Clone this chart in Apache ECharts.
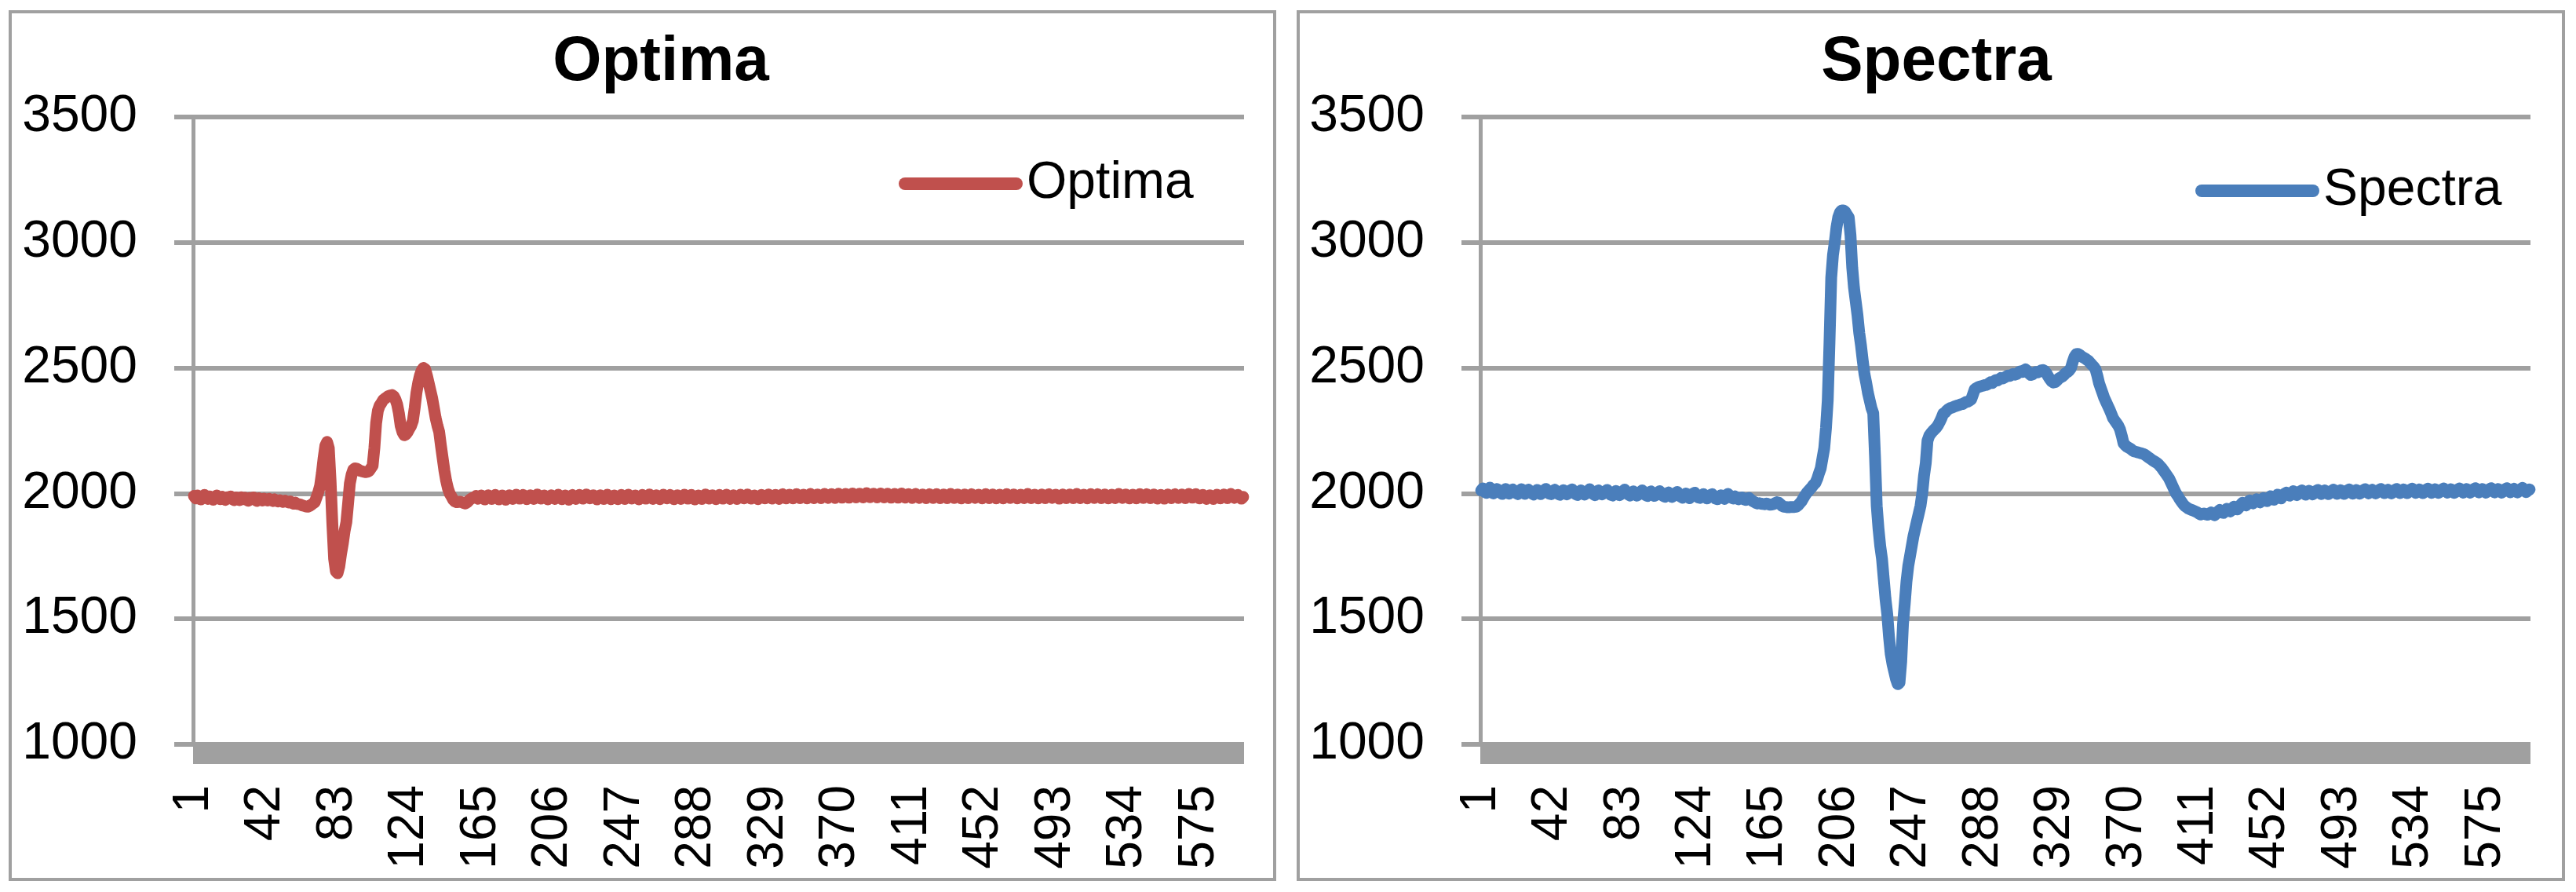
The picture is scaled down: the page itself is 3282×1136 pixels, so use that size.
<!DOCTYPE html>
<html>
<head>
<meta charset="utf-8">
<title>Optima / Spectra</title>
<script src="https://cdn.jsdelivr.net/npm/echarts@6/dist/echarts.min.js"></script>
<style>
  html, body { margin: 0; padding: 0; background: #fff; }
  #main { width: 3282px; height: 1136px; }
</style>
</head>
<body>
<div id="main"></div>
<script>
// sample index 1..600
var categories = [];
for (var i = 1; i <= 600; i++) categories.push(String(i));

var yTicks = [1000, 1500, 2000, 2500, 3000, 3500];

var optima = [
  1990,1980,1992,1985,1976,1987,1994,1983,1978,1988,1982,1975,1986,1992,1981,1977,1987,1980,1974,1985,
  1981,1988,1977,1973,1984,1979,1973,1985,1977,1983,1975,1971,1982,1977,1984,1974,1970,1981,1976,1972,
  1979,1975,1972,1978,1974,1970,1976,1971,1968,1973,1969,1966,1971,1967,1964,1968,1962,1959,1963,1958,
  1957,1955,1952,1950,1948,1947,1950,1955,1960,1965,1985,2005,2030,2080,2140,2190,2205,2180,2050,1880,
  1740,1690,1682,1710,1760,1800,1850,1885,1960,2040,2075,2095,2100,2098,2094,2090,2088,2086,2085,2086,
  2090,2100,2110,2180,2280,2330,2350,2360,2372,2378,2383,2388,2390,2392,2388,2375,2355,2320,2270,2245,
  2232,2235,2245,2258,2270,2290,2340,2400,2440,2470,2490,2500,2495,2470,2440,2410,2380,2340,2300,2270,
  2245,2190,2140,2090,2050,2020,2000,1988,1975,1968,1965,1966,1967,1965,1962,1960,1965,1972,1978,1982,
  1984,1990,1979,1986,1992,1981,1976,1987,1993,1985,1978,1988,1994,1983,1976,1985,1992,1982,1975,1987,
  1993,1983,1978,1988,1995,1986,1979,1989,1994,1984,1977,1987,1993,1983,1978,1989,1996,1987,1979,1986,
  1992,1982,1976,1985,1993,1986,1978,1988,1995,1985,1977,1984,1992,1982,1975,1985,1994,1986,1978,1988,
  1994,1984,1979,1989,1996,1987,1980,1986,1993,1983,1976,1985,1993,1985,1978,1988,1995,1986,1977,1984,
  1992,1983,1977,1986,1994,1985,1978,1989,1995,1986,1979,1985,1992,1982,1976,1986,1994,1986,1979,1989,
  1996,1987,1978,1985,1993,1983,1977,1988,1995,1986,1980,1989,1994,1985,1977,1986,1993,1983,1978,1988,
  1995,1986,1979,1987,1994,1985,1976,1984,1992,1985,1978,1989,1996,1987,1979,1986,1993,1983,1977,1986,
  1994,1986,1979,1989,1995,1986,1978,1985,1993,1985,1978,1988,1995,1986,1980,1989,1996,1987,1979,1986,
  1992,1983,1977,1986,1994,1987,1980,1990,1996,1987,1979,1987,1994,1986,1978,1989,1997,1988,1980,1988,
  1995,1987,1980,1990,1997,1988,1981,1988,1995,1987,1980,1990,1998,1989,1981,1989,1996,1988,1981,1991,
  1998,1990,1982,1990,1997,1989,1982,1992,1999,1990,1983,1991,1998,1990,1983,1993,2000,1991,1984,1992,
  1999,1990,1984,1994,2001,1992,1985,1992,1999,1991,1984,1994,2000,1991,1984,1992,1999,1990,1983,1991,
  1998,1990,1983,1993,2000,1991,1983,1990,1997,1989,1982,1992,1998,1990,1982,1989,1996,1988,1981,1991,
  1997,1989,1982,1990,1997,1988,1981,1989,1996,1988,1981,1991,1998,1989,1982,1989,1996,1988,1980,1989,
  1996,1988,1981,1991,1997,1989,1982,1988,1995,1987,1980,1990,1997,1988,1981,1989,1996,1987,1980,1988,
  1995,1987,1980,1990,1997,1989,1982,1989,1996,1987,1980,1988,1995,1987,1981,1991,1998,1989,1981,1988,
  1995,1987,1980,1990,1996,1988,1981,1989,1997,1989,1982,1988,1995,1986,1979,1988,1996,1988,1981,1989,
  1996,1988,1981,1991,1998,1989,1981,1988,1995,1987,1980,1990,1997,1989,1982,1991,1997,1988,1981,1989,
  1996,1987,1980,1988,1995,1987,1981,1991,1998,1990,1982,1989,1996,1988,1980,1988,1995,1987,1980,1990,
  1997,1989,1982,1991,1997,1988,1981,1989,1996,1987,1979,1987,1994,1986,1979,1988,1996,1988,1981,1989,
  1997,1989,1982,1989,1996,1988,1981,1991,1998,1990,1983,1990,1997,1988,1980,1987,1994,1986,1978,1986,
  1993,1985,1978,1988,1995,1987,1980,1988,1996,1988,1981,1990,1998,1990,1982,1988,1994,1986,1979,1986
];

var spectra = [
  2012,2020,2006,2002,2016,2023,2009,2000,2009,2018,2011,2003,1998,2010,2018,2007,1999,2006,2016,2009,
  2001,1997,2009,2017,2005,1998,2005,2015,2008,2000,1996,2004,2014,2006,1997,2003,2013,2018,2007,1999,
  1997,2006,2015,2007,1998,1995,2005,2013,2003,1996,2002,2012,2016,2006,1997,1994,2004,2012,2002,1995,
  2001,2010,2017,2007,1998,1993,2002,2012,2005,1996,2001,2009,2014,2003,1995,1992,2002,2010,2000,1993,
  1998,2008,2015,2005,1996,1992,2000,2008,2000,1991,1996,2005,2012,2002,1993,1990,1998,2008,2000,1990,
  1994,2003,2009,1999,1990,1987,1995,2004,1995,1986,1991,2000,2006,1996,1987,1983,1991,2000,1990,1981,
  1992,1999,2003,1993,1984,1982,1990,1997,1988,1980,1985,1994,1997,1988,1979,1977,1985,1993,1986,1978,
  1992,1998,1990,1983,1980,1988,1984,1977,1981,1984,1977,1974,1980,1982,1976,1970,1966,1962,1960,1961,
  1959,1958,1957,1960,1957,1955,1956,1957,1962,1965,1963,1957,1950,1947,1946,1945,1945,1946,1946,1946,
  1947,1952,1960,1968,1980,1992,2002,2010,2018,2026,2035,2042,2058,2080,2100,2140,2180,2260,2370,2600,
  2860,2950,3000,3060,3100,3120,3128,3128,3122,3110,3100,3030,2900,2820,2765,2710,2640,2590,2530,2475,
  2440,2400,2370,2340,2320,2150,1950,1860,1790,1740,1660,1580,1520,1430,1360,1320,1290,1260,1240,1245,
  1330,1480,1560,1650,1710,1750,1790,1830,1860,1890,1920,1950,2000,2070,2120,2210,2230,2240,2248,2255,
  2262,2272,2285,2300,2318,2322,2330,2336,2340,2342,2345,2348,2350,2352,2355,2356,2360,2364,2366,2370,
  2375,2395,2415,2420,2424,2426,2428,2430,2432,2433,2438,2443,2440,2446,2452,2450,2455,2460,2458,2462,
  2466,2470,2468,2472,2476,2473,2476,2482,2486,2484,2490,2494,2488,2478,2472,2474,2480,2484,2482,2486,
  2490,2492,2488,2478,2466,2455,2446,2442,2444,2450,2458,2462,2466,2472,2480,2484,2490,2500,2525,2545,
  2555,2556,2552,2546,2542,2538,2533,2528,2520,2512,2505,2495,2470,2440,2420,2400,2380,2365,2350,2335,
  2318,2300,2290,2280,2270,2255,2230,2200,2192,2186,2182,2178,2172,2168,2166,2164,2162,2160,2158,2155,
  2150,2145,2140,2135,2130,2126,2122,2116,2108,2100,2090,2080,2070,2060,2045,2030,2015,2000,1990,1978,
  1968,1958,1950,1945,1940,1937,1934,1931,1928,1925,1920,1916,1918,1920,1917,1915,1920,1924,1918,1913,
  1920,1928,1934,1929,1922,1930,1939,1934,1928,1936,1947,1941,1936,1944,1955,1963,1957,1952,1962,1972,
  1966,1960,1968,1977,1970,1964,1973,1982,1976,1969,1978,1989,1982,1975,1985,1995,1988,1980,1990,1999,
  2003,1995,1991,2000,2009,2001,1993,1999,2008,2012,2003,1995,2002,2011,2004,1996,2001,2010,2014,2005,
  1997,2003,2012,2005,1997,2002,2011,2015,2006,1998,2004,2013,2006,1998,2003,2012,2016,2007,1999,2005,
  2014,2007,1999,2004,2013,2017,2008,2000,2006,2015,2008,2000,2005,2014,2018,2009,2001,2006,2015,2008,
  2000,2005,2014,2018,2009,2001,2007,2016,2009,2001,2006,2015,2019,2010,2002,2007,2016,2009,2001,2006,
  2015,2019,2010,2002,2008,2017,2010,2002,2007,2016,2020,2011,2003,2008,2017,2010,2002,2007,2016,2020,
  2011,2003,2009,2018,2011,2003,2008,2017,2021,2012,2004,2009,2018,2011,2003,2008,2017,2021,2012,2004,
  2009,2018,2011,2003,2008,2017,2021,2012,2004,2010,2019,2012,2004,2009,2018,2022,2013,2005,2011,2016
];

var FONT = 'Liberation Sans';
var GREY = '#a0a0a0';
var capsule = 'path://M8,0 L150,0 A8,8 0 0 1 150,16 L8,16 A8,8 0 0 1 8,0 Z';

function makeX(gridIndex) {
  return {
    type: 'category',
    gridIndex: gridIndex,
    data: categories,
    offset: 11,
    axisLine: { lineStyle: { color: GREY, width: 27, cap: 'butt' } },
    axisTick: { show: false },
    axisLabel: {
      interval: 40, rotate: 90, margin: 41,
      color: '#000', fontFamily: FONT, fontSize: 64
    },
    splitLine: { show: false }
  };
}
function makeY(gridIndex) {
  return {
    type: 'value',
    gridIndex: gridIndex,
    min: yTicks[0], max: yTicks[yTicks.length - 1], interval: 500,
    axisLine: { show: true, lineStyle: { color: GREY, width: 5, cap: 'butt' } },
    axisTick: { show: true, length: 24, lineStyle: { color: GREY, width: 6 } },
    axisLabel: {
      margin: 71, color: '#000', fontFamily: FONT, fontSize: 66,
      formatter: function (v) { return String(v); }
    },
    splitLine: { lineStyle: { color: GREY, width: 6 } }
  };
}

var chart = echarts.init(document.getElementById('main'));
chart.setOption({
  animation: false,
  backgroundColor: '#fff',
  title: [
    { text: 'Optima', left: 842, top: 40, textAlign: 'center', padding: 0,
      textStyle: { fontFamily: FONT, fontSize: 80, fontWeight: 'bold', color: '#000' } },
    { text: 'Spectra', left: 2467, top: 40, textAlign: 'center', padding: 0,
      textStyle: { fontFamily: FONT, fontSize: 80, fontWeight: 'bold', color: '#000' } }
  ],
  legend: [
    { data: ['Optima'], left: 1145, top: 201, padding: 0, itemWidth: 158, itemHeight: 16,
      icon: capsule, textStyle: { fontFamily: FONT, fontSize: 66, color: '#000' } },
    { data: ['Spectra'], left: 2797, top: 210, padding: 0, itemWidth: 158, itemHeight: 16,
      icon: capsule, textStyle: { fontFamily: FONT, fontSize: 66, color: '#000' } }
  ],
  grid: [
    { left: 246, top: 149, width: 1339, height: 799 },
    { left: 1886, top: 149, width: 1338, height: 799 }
  ],
  xAxis: [makeX(0), makeX(1)],
  yAxis: [makeY(0), makeY(1)],
  graphic: [
    { type: 'rect', shape: { x: 13, y: 15, width: 1611, height: 1105 },
      style: { fill: null, stroke: GREY, lineWidth: 4 }, z: -1 },
    { type: 'rect', shape: { x: 1654, y: 15, width: 1612, height: 1105 },
      style: { fill: null, stroke: GREY, lineWidth: 4 }, z: -1 }
  ],
  series: [
    { name: 'Optima', type: 'line', xAxisIndex: 0, yAxisIndex: 0, data: optima,
      symbol: 'none', color: '#c0504d',
      lineStyle: { width: 15, color: '#c0504d', join: 'round', cap: 'round' } },
    { name: 'Spectra', type: 'line', xAxisIndex: 1, yAxisIndex: 1, data: spectra,
      symbol: 'none', color: '#4a7ebb',
      lineStyle: { width: 15, color: '#4a7ebb', join: 'round', cap: 'round' } }
  ]
});
</script>
</body>
</html>
